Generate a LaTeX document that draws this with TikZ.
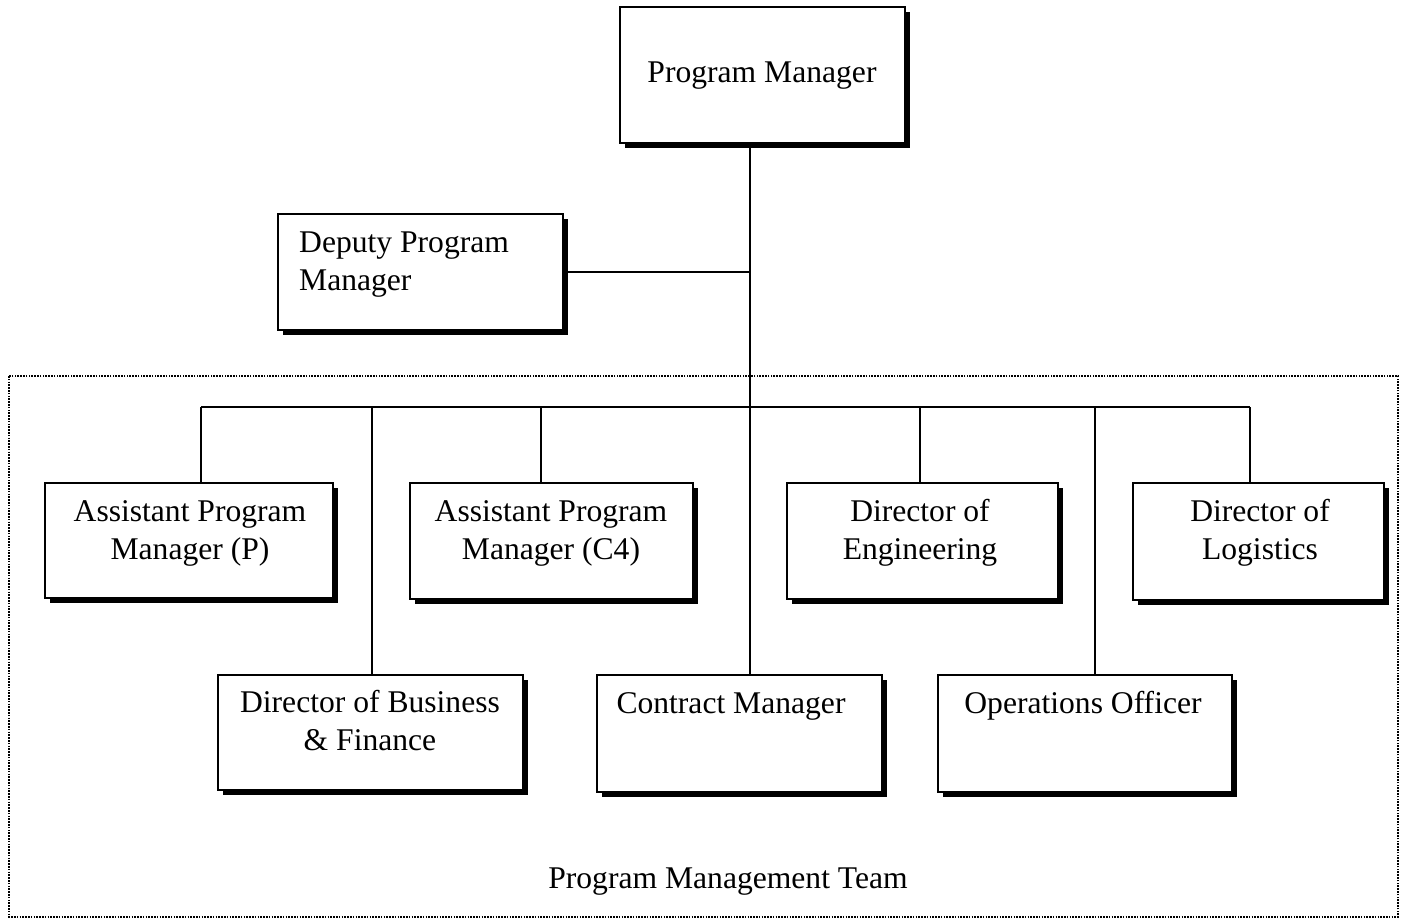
\documentclass[tikz,border=0pt]{standalone}
\usepackage{fontspec}
\setmainfont{Liberation Serif}
\usetikzlibrary{shadows}
\begin{document}
\begin{tikzpicture}[x=1pt,y=-1pt,
  box/.style={draw=black, line width=1.8pt, fill=white, inner sep=0pt,
    drop shadow={shadow xshift=5pt, shadow yshift=-5pt, fill=black, opacity=1}},
  txt/.style={inner sep=0pt, font=\fontsize{31.6}{38}\selectfont, anchor=base},
  conn/.style={line width=1.8pt},
  frame/.style={line width=1.8pt, dash pattern=on 1.6pt off 1.2pt}]
\useasboundingbox (0,0) rectangle (1401,921);
\setlength{\tabcolsep}{0pt}
% frame
\draw[frame] (9,376) rectangle (1398,917);
% boxes
\node[box, minimum width=285pt, minimum height=136pt] (pm) at (762.5,75) {};
\node[box, minimum width=285pt, minimum height=116pt] (dep) at (420.5,272) {};
\node[box, minimum width=288pt, minimum height=115pt] (apmp) at (189,540.5) {};
\node[box, minimum width=283pt, minimum height=116pt] (apmc) at (551.5,541) {};
\node[box, minimum width=271pt, minimum height=116pt] (eng) at (922.5,541) {};
\node[box, minimum width=251pt, minimum height=117pt] (log) at (1258.5,541.5) {};
\node[box, minimum width=305pt, minimum height=115pt] (bus) at (370.5,732.5) {};
\node[box, minimum width=285pt, minimum height=117pt] (con) at (739.5,733.5) {};
\node[box, minimum width=294pt, minimum height=117pt] (ops) at (1085,733.5) {};
% texts
\node[txt] (pmt) at (762,82) {Program Manager};
\node[txt, anchor=base west] (dept) at (299,252) {\begin{tabular}[t]{l}Deputy Program\\Manager\end{tabular}};
\node[txt] (apmpt) at (190,521) {\begin{tabular}[t]{c}Assistant Program\\Manager (P)\end{tabular}};
\node[txt] (apmct) at (551,521) {\begin{tabular}[t]{c}Assistant Program\\Manager (C4)\end{tabular}};
\node[txt] (engt) at (920,521) {\begin{tabular}[t]{c}Director of\\Engineering\end{tabular}};
\node[txt] (logt) at (1260,521) {\begin{tabular}[t]{c}Director of\\Logistics\end{tabular}};
\node[txt] (bust) at (370,712) {\begin{tabular}[t]{c}Director of Business\\\& Finance\end{tabular}};
\node[txt] (cont) at (731,713) {Contract Manager};
\node[txt] (opst) at (1083,713) {Operations Officer};
\node[txt] (teamt) at (728,888) {Program Management Team};
% connectors
\coordinate (t) at (750,407);
\coordinate (b1) at (201,407);
\coordinate (b2) at (372,407);
\coordinate (b3) at (541,407);
\coordinate (b4) at (920,407);
\coordinate (b5) at (1095,407);
\coordinate (b6) at (1250,407);
\draw[conn] (pm.south -| t) -- (con.north -| t);
\draw[conn] (dep.east) -- (dep.east -| t);
\draw[conn] (b1) -- (b6);
\draw[conn] (b1) -- (b1 |- apmp.north);
\draw[conn] (b2) -- (b2 |- bus.north);
\draw[conn] (b3) -- (b3 |- apmc.north);
\draw[conn] (b4) -- (b4 |- eng.north);
\draw[conn] (b5) -- (b5 |- ops.north);
\draw[conn] (b6) -- (b6 |- log.north);
\end{tikzpicture}
\end{document}
